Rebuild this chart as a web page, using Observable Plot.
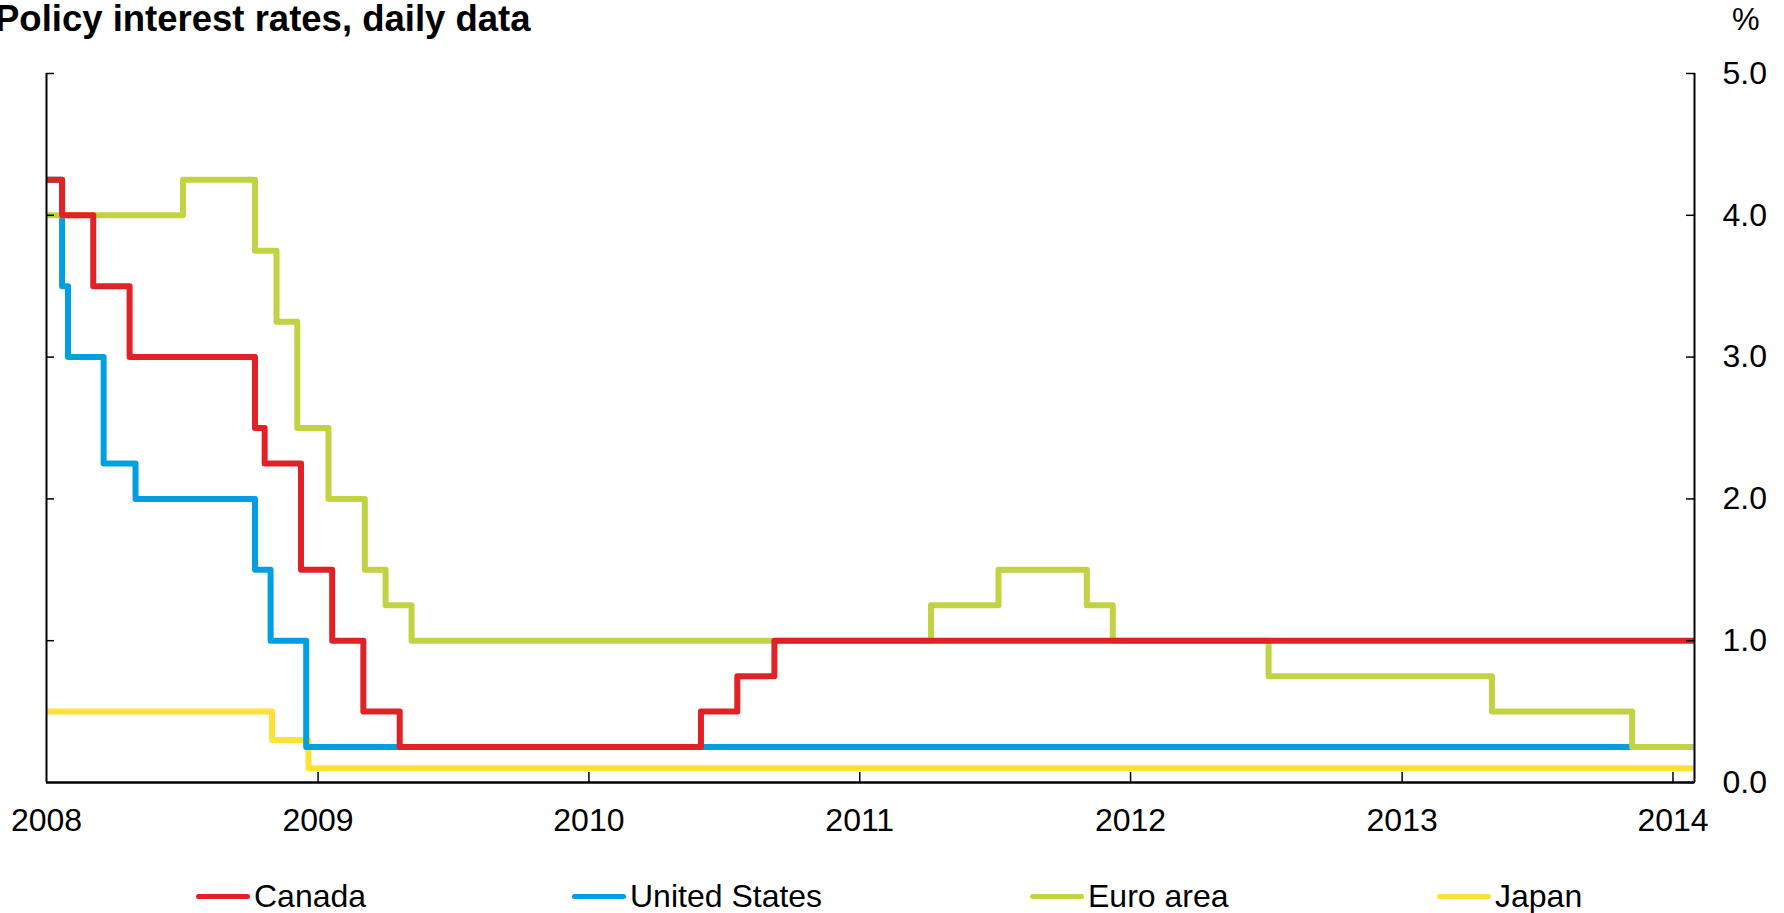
<!DOCTYPE html>
<html><head><meta charset="utf-8">
<script src="https://cdn.jsdelivr.net/npm/d3@7"></script>
<script src="https://cdn.jsdelivr.net/npm/@observablehq/plot@0.6"></script>
<style>
body{margin:0;background:#fff;font-family:"Liberation Sans",Arial,sans-serif;overflow:hidden;color:#000}
#wrap{position:relative;width:1784px;height:913px;overflow:hidden}
#head{position:relative;height:46px}
#title{position:absolute;left:-5px;top:1px;font-size:36.5px;line-height:36px;font-weight:bold;white-space:nowrap}
#pct{position:absolute;left:1732px;top:4px;font-size:31px;line-height:31px}
#legend{position:relative;height:67px}
.item{position:absolute;top:30px;height:40px;display:flex;align-items:center;font-size:32px;white-space:nowrap}
.sw{display:inline-block;width:54px;height:5px;border-radius:3px;margin-right:4px}
</style></head><body>
<div id="wrap">
  <div id="head"><div id="title">Policy interest rates, daily data</div><div id="pct">%</div></div>
  <div id="chart"></div>
  <div id="legend"></div>
</div>
<script>
const seriesNames = ["Canada", "United States", "Euro area", "Japan"];
const seriesColors = ["#E02226", "#009FDF", "#C1D243", "#FFE035"];

const canadaDates = ["2008-01-01","2008-01-22","2008-03-04","2008-04-22","2008-10-08","2008-10-21","2008-12-09","2009-01-20","2009-03-03","2009-04-21","2010-06-01","2010-07-20","2010-09-08","2014-01-30"];
const canadaRates = [4.25,4.00,3.50,3.00,2.50,2.25,1.50,1.00,0.50,0.25,0.50,0.75,1.00,1.00];

const usDates = ["2008-01-01","2008-01-22","2008-01-30","2008-03-18","2008-04-30","2008-10-08","2008-10-29","2008-12-16","2014-01-30"];
const usRates = [4.25,3.50,3.00,2.25,2.00,1.50,1.00,0.25,0.25];

const euroDates = ["2008-01-01","2008-07-03","2008-10-08","2008-11-06","2008-12-04","2009-01-15","2009-03-05","2009-04-02","2009-05-07","2011-04-07","2011-07-07","2011-11-03","2011-12-08","2012-07-05","2013-05-02","2013-11-07","2014-01-30"];
const euroRates = [4.00,4.25,3.75,3.25,2.50,2.00,1.50,1.25,1.00,1.25,1.50,1.25,1.00,0.75,0.50,0.25,0.25];

const japanDates = ["2008-01-01","2008-10-31","2008-12-19","2014-01-30"];
const japanRates = [0.50,0.30,0.10,0.10];

const yTicks = [0, 1, 2, 3, 4, 5];
const yearTicks = ["2008","2009","2010","2011","2012","2013","2014"];
const xStart = "2008-01-01", xEnd = "2014-01-30";

const legendX = [196, 572, 1030, 1437];

const parse = d3.utcParse("%Y-%m-%d");
const rows = [];
function add(name, dates, rates) {
  dates.forEach((d, i) => rows.push({series: name, date: parse(d), rate: rates[i]}));
}
// drawing order: Japan, US, Euro area, Canada (Canada on top)
add("Japan", japanDates, japanRates);
add("United States", usDates, usRates);
add("Euro area", euroDates, euroRates);
add("Canada", canadaDates, canadaRates);

const years = yearTicks.map(y => parse(y + "-01-01"));
const domain = [parse(xStart), parse(xEnd)];

const chart = Plot.plot({
  width: 1784, height: 800,
  marginTop: 27, marginBottom: 64, marginLeft: 46, marginRight: 90,
  style: {fontFamily: "'Liberation Sans', Arial, sans-serif", fontSize: "32px", color: "#000", background: "#fff"},
  x: {type: "utc", domain},
  y: {domain: [0, 5]},
  color: {domain: seriesNames, range: seriesColors},
  marks: [
    Plot.lineY(rows, {x: "date", y: "rate", z: "series", stroke: "series", curve: "step-after", strokeWidth: 6, strokeLinejoin: "round", strokeLinecap: "butt"}),
    Plot.ruleX([domain[0]], {y1: 0, y2: 5, strokeWidth: 2}),
    Plot.ruleX([domain[1]], {y1: 0, y2: 5, strokeWidth: 2}),
    Plot.ruleY([0], {strokeWidth: 2.5}),
    Plot.axisX({ticks: years, tickSize: 0, tickPadding: 26, tickFormat: d3.utcFormat("%Y"), label: null, fontSize: 32}),
    Plot.axisX({ticks: years.slice(1), tickSize: 10, dy: -10, tickFormat: () => "", label: null, strokeWidth: 1.5}),
    Plot.axisY({anchor: "left", ticks: yTicks.slice(1), tickSize: 8, dx: 8, tickFormat: () => "", label: null, strokeWidth: 1.5}),
    Plot.axisY({anchor: "right", ticks: yTicks, tickSize: 9, dx: -9, tickFormat: () => "", label: null, strokeWidth: 1.5}),
    Plot.axisY({anchor: "right", ticks: yTicks, tickSize: 0, tickPadding: 28, tickFormat: d => d.toFixed(1), label: null, fontSize: 32})
  ]
});
document.getElementById("chart").appendChild(chart);

const legend = document.getElementById("legend");
seriesNames.forEach((name, i) => {
  const item = document.createElement("div");
  item.className = "item";
  item.style.left = legendX[i] + "px";
  const sw = document.createElement("span");
  sw.className = "sw";
  sw.style.background = seriesColors[i];
  const tx = document.createElement("span");
  tx.textContent = name;
  item.appendChild(sw); item.appendChild(tx);
  legend.appendChild(item);
});
</script>
</body></html>
